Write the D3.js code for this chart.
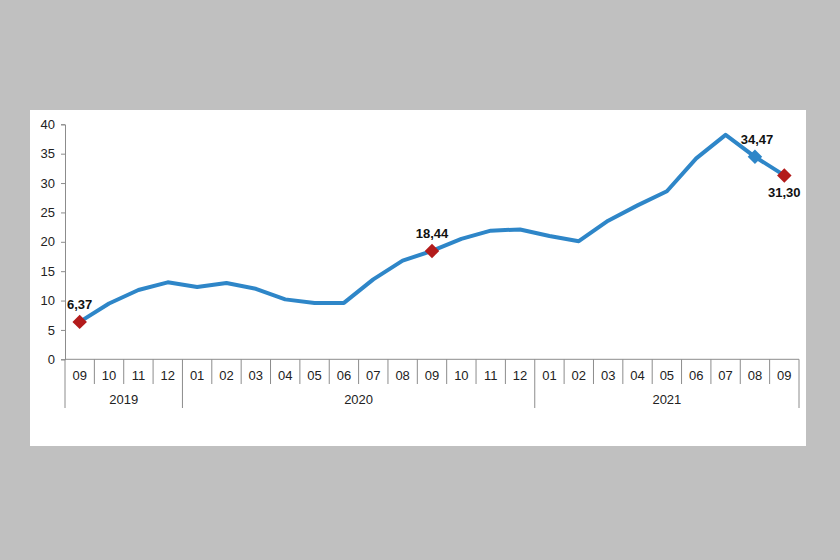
<!DOCTYPE html>
<html>
<head>
<meta charset="utf-8">
<script src="https://cdn.jsdelivr.net/npm/d3@7"></script>
<style>
  body { margin: 0; background: #c0c0c0; }
  svg { display: block; font-family: "Liberation Sans", Arial, sans-serif; }
</style>
</head>
<body>
<div id="chart"></div>
<script>
// Monthly values, 09/2019 - 09/2021
const months = ["09","10","11","12","01","02","03","04","05","06","07","08","09",
                "10","11","12","01","02","03","04","05","06","07","08","09"];
const years = ["2019","2019","2019","2019","2020","2020","2020","2020","2020","2020","2020","2020","2020",
               "2020","2020","2020","2021","2021","2021","2021","2021","2021","2021","2021","2021"];
const values = [6.37, 9.5, 11.8, 13.1, 12.3, 13.0, 12.0, 10.2, 9.6, 9.6, 13.6, 16.8, 18.44,
                20.5, 21.9, 22.1, 21.0, 20.1, 23.6, 26.2, 28.6, 34.2, 38.2, 34.47, 31.30];
const yTicks = [0, 5, 10, 15, 20, 25, 30, 35, 40];
// highlighted points: index, colour, label position
const marked = [
  { i: 0, color: "#b31b1b", pos: "above" },
  { i: 12, color: "#b31b1b", pos: "above" },
  { i: 23, color: "#2e86c8", pos: "above" },
  { i: 24, color: "#b31b1b", pos: "below" }
];

const W = 840, H = 560;
const svg = d3.select("#chart").append("svg").attr("width", W).attr("height", H);

// white panel
svg.append("rect").attr("x", 30).attr("y", 110).attr("width", 776).attr("height", 336).attr("fill", "#fff");

const x = d3.scaleBand().domain(d3.range(months.length)).range([65, 799]);
const y = d3.scaleLinear().domain([0, 40]).range([359.3, 124.3]);
const axisColor = "#8c8c8c";

// y axis
const yAxis = svg.append("g").attr("transform", "translate(65,0)")
  .call(d3.axisLeft(y).tickValues(yTicks).tickSize(4).tickPadding(6).tickFormat(d3.format("d")));
yAxis.select(".domain").attr("stroke", axisColor);
yAxis.selectAll(".tick line").attr("stroke", axisColor);
yAxis.selectAll("text").attr("font-size", 13).attr("fill", "#222")
  .attr("font-family", "Liberation Sans, Arial, sans-serif");

// x axis baseline
svg.append("line").attr("x1", 65).attr("x2", 799).attr("y1", y(0)).attr("y2", y(0)).attr("stroke", axisColor);

// month separators and labels
const g = svg.append("g");
months.forEach((m, i) => {
  const bx = x(i);
  const isYearStart = i === 0 || years[i] !== years[i - 1];
  g.append("line").attr("x1", bx).attr("x2", bx).attr("y1", y(0))
    .attr("y2", isYearStart ? 408 : 384).attr("stroke", axisColor);
  g.append("text").attr("x", bx + x.bandwidth() / 2).attr("y", 380)
    .attr("text-anchor", "middle").attr("font-size", 13).attr("fill", "#222").text(m);
});
// closing separator
g.append("line").attr("x1", 799).attr("x2", 799).attr("y1", y(0)).attr("y2", 408).attr("stroke", axisColor);

// year labels
const yearGroups = d3.groups(d3.range(months.length), i => years[i]);
yearGroups.forEach(([yr, idx]) => {
  const x0 = x(idx[0]), x1 = x(idx[idx.length - 1]) + x.bandwidth();
  g.append("text").attr("x", (x0 + x1) / 2).attr("y", 404)
    .attr("text-anchor", "middle").attr("font-size", 13).attr("fill", "#222").text(yr);
});

// line
const cx = i => x(i) + x.bandwidth() / 2;
svg.append("path").datum(values)
  .attr("d", d3.line().x((d, i) => cx(i)).y(d => y(d)))
  .attr("fill", "none").attr("stroke", "#2e86c8").attr("stroke-width", 4)
  .attr("stroke-linejoin", "round");

// markers + labels
const fmt = v => v.toFixed(2).replace(".", ",");
marked.forEach(m => {
  const px = cx(m.i), py = y(values[m.i]);
  svg.append("path").attr("d", d3.symbol(d3.symbolSquare, 105)())
    .attr("transform", `translate(${px},${py}) rotate(45)`)
    .attr("fill", m.color);
  svg.append("text").attr("x", px + (m.i === 23 ? 2 : 0)).attr("y", m.pos === "above" ? py - 13 : py + 22)
    .attr("text-anchor", "middle").attr("font-size", 13).attr("font-weight", "bold")
    .attr("fill", "#111").text(fmt(values[m.i]));
});
</script>
</body>
</html>
